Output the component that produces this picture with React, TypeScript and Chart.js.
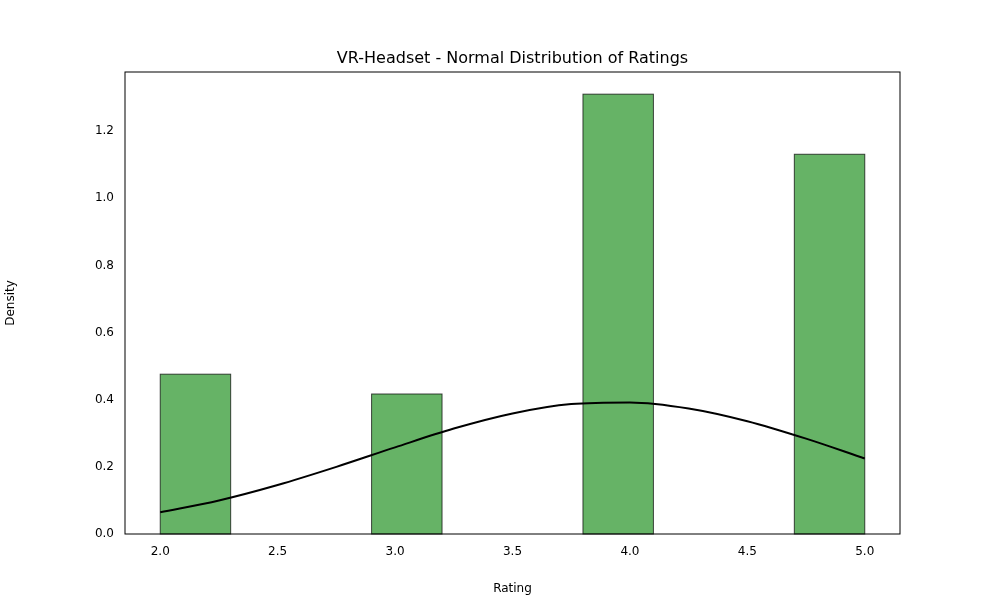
import React, { useEffect, useRef } from 'react'
import Chart from 'chart.js/auto'

// histogram bins (left edge, right edge, density)
const binLeft = [2.0, 2.3, 2.6, 2.9, 3.2, 3.5, 3.8, 4.1, 4.4, 4.7]
const binRight = [2.3, 2.6, 2.9, 3.2, 3.5, 3.8, 4.1, 4.4, 4.7, 5.0]
const binDensity = [0.476, 0, 0, 0.417, 0, 0, 1.31, 0, 0, 1.131]

// fitted normal curve
const curveX = [2.0, 2.25, 2.5, 2.75, 3.0, 3.25, 3.5, 3.75, 4.0, 4.25, 4.5, 4.75, 5.0]
const curveY = [0.065, 0.1, 0.146, 0.2, 0.258, 0.314, 0.359, 0.387, 0.392, 0.374, 0.336, 0.284, 0.225]

const xTicks = [2.0, 2.5, 3.0, 3.5, 4.0, 4.5, 5.0]
const yTicks = [0, 0.2, 0.4, 0.6, 0.8, 1.0, 1.2]

const FONT = 'DejaVu Sans'

export default function App() {
    const ctx = useRef<HTMLCanvasElement | null>(null)

    useEffect(() => {
        if (!ctx.current) return
        document.body.style.margin = '0'

        const histPlugin = {
            id: 'hist',
            beforeDatasetsDraw(chart: any) {
                const c = chart.ctx
                const xs = chart.scales.x
                const ys = chart.scales.y
                c.save()
                binDensity.forEach((d, i) => {
                    if (!d) return
                    const l = xs.getPixelForValue(binLeft[i])
                    const r = xs.getPixelForValue(binRight[i])
                    const t = ys.getPixelForValue(d)
                    const b = ys.getPixelForValue(0)
                    c.fillStyle = 'rgba(0,128,0,0.6)'
                    c.fillRect(l, t, r - l, b - t)
                    c.strokeStyle = 'rgba(0,0,0,0.7)'
                    c.lineWidth = 1
                    c.strokeRect(l, t, r - l, b - t)
                })
                c.restore()
            },
            afterDraw(chart: any) {
                const c = chart.ctx
                const a = chart.chartArea
                c.save()
                c.strokeStyle = '#000'
                c.lineWidth = 1
                c.strokeRect(a.left, a.top, a.right - a.left, a.bottom - a.top)
                c.fillStyle = '#000'
                c.font = `16px "${FONT}"`
                c.textAlign = 'center'
                c.textBaseline = 'bottom'
                c.fillText('VR-Headset - Normal Distribution of Ratings', (a.left + a.right) / 2, a.top - 5)
                c.restore()
            },
        }

        const chart = new Chart(ctx.current, {
            type: 'line',
            data: {
                datasets: [
                    {
                        data: curveX.map((x, i) => ({ x, y: curveY[i] })),
                        borderColor: '#000',
                        borderWidth: 2,
                        pointRadius: 0,
                        cubicInterpolationMode: 'monotone',
                        fill: false,
                    },
                ],
            },
            options: {
                animation: false,
                responsive: false,
                layout: { padding: { top: 72, right: 100, left: 0, bottom: 0 } },
                plugins: { legend: { display: false }, tooltip: { enabled: false } },
                scales: {
                    x: {
                        type: 'linear',
                        min: 1.85,
                        max: 5.15,
                        grid: { display: false },
                        border: { display: false },
                        afterBuildTicks: (s: any) => { s.ticks = xTicks.map((v) => ({ value: v })) },
                        afterFit: (s: any) => { s.height = 66 },
                        ticks: { color: '#000', font: { family: FONT, size: 12 }, maxRotation: 0, callback: (v: any) => Number(v).toFixed(1) },
                        title: { display: true, text: 'Rating', color: '#000', font: { family: FONT, size: 12 }, padding: { top: 2 } },
                    },
                    y: {
                        min: 0,
                        max: 1.376,
                        grid: { display: false },
                        border: { display: false },
                        afterBuildTicks: (s: any) => { s.ticks = yTicks.map((v) => ({ value: v })) },
                        afterFit: (s: any) => { s.width = 125 },
                        ticks: { color: '#000', font: { family: FONT, size: 12 }, callback: (v: any) => Number(v).toFixed(1) },
                        title: { display: true, text: 'Density', color: '#000', font: { family: FONT, size: 12 } },
                    },
                },
            },
            plugins: [histPlugin],
        } as any)
        return () => chart.destroy()
    }, [])

    return <canvas ref={ctx} width={1000} height={600} style={{ display: 'block' }}></canvas>
}
